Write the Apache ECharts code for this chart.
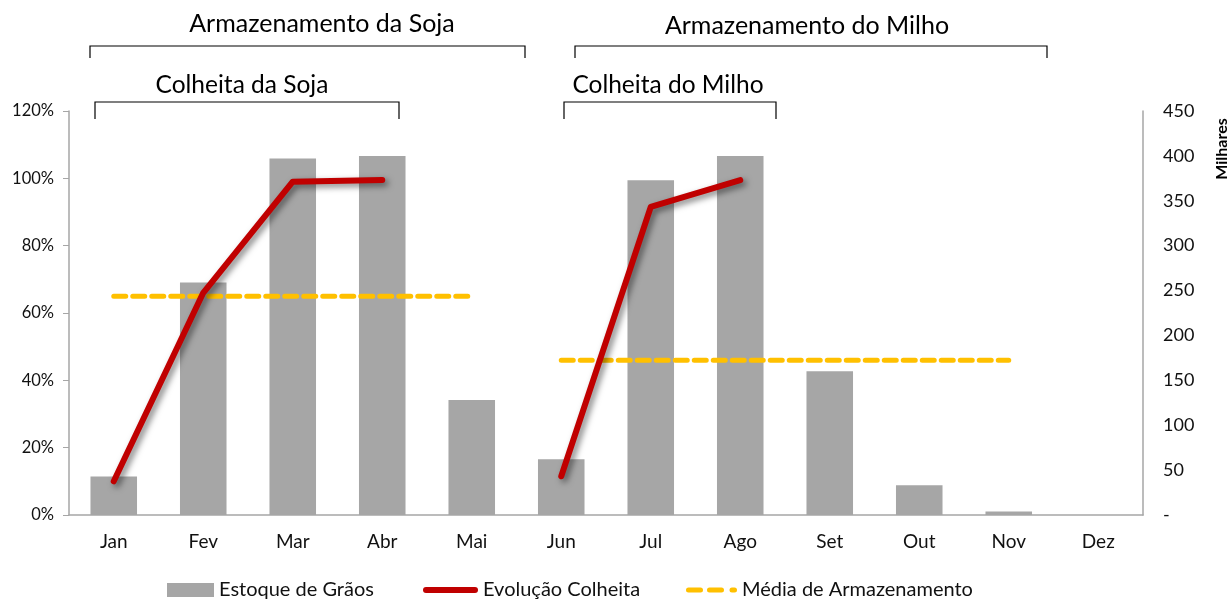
<!DOCTYPE html>
<html>
<head>
<meta charset="utf-8">
<script src="https://cdn.jsdelivr.net/npm/echarts@6/dist/echarts.min.js"></script>
<style>
  html, body { margin: 0; padding: 0; background: #fff; }
  #chart { width: 1229px; height: 601px; }
</style>
</head>
<body>
<div id="chart"></div>
<script>
// meses
var months = ['Jan', 'Fev', 'Mar', 'Abr', 'Mai', 'Jun', 'Jul', 'Ago', 'Set', 'Out', 'Nov', 'Dez'];
// estoque em milhares (eixo direito)
var estoque = [43, 259, 397, 400, 128, 62, 373, 400, 160, 33, 4, 0];
// evolução da colheita em % (eixo esquerdo)
var colheita = [10, 66, 99, 99.5, null, 11.5, 91.5, 99.5, null, null, null, null];
// médias de armazenamento em %
var mediaSoja = [65, 65, 65, 65, 65, null, null, null, null, null, null, null];
var mediaMilho = [null, null, null, null, null, 46, 46, 46, 46, 46, 46, null];

var FONT = 'Lato';
var chart = echarts.init(document.getElementById('chart'));

function bracket(x1, x2, y, h) {
  return {
    type: 'polyline',
    shape: { points: [[x1, y + h], [x1, y], [x2, y], [x2, y + h]] },
    style: { stroke: '#000', lineWidth: 1.2, fill: null }
  };
}

function label(text, x, y, size) {
  return {
    type: 'text', x: x, y: y,
    style: { text: text, font: size + 'px ' + FONT, fill: '#000', textAlign: 'center', textVerticalAlign: 'middle' }
  };
}

var legendText = { fontSize: 20, color: '#111', fontFamily: FONT };

var option = {
  animation: false,
  textStyle: { fontFamily: FONT },
  grid: { left: 69, right: 86, top: 111, bottom: 86 },
  legend: [
    {
      left: 167, top: 580, padding: 0, itemWidth: 47, itemHeight: 14, textStyle: legendText,
      data: [{ name: 'Estoque de Grãos', icon: 'rect' }]
    },
    {
      left: 423, top: 580, padding: 0, itemWidth: 55, itemHeight: 6, textStyle: legendText,
      data: [{ name: 'Evolução Colheita', icon: 'path://M3,0h49a3,3 0 0 1 0,6h-49a3,3 0 0 1 0,-6z' }]
    },
    {
      left: 686, top: 580, padding: 0, itemWidth: 51, itemHeight: 5, textStyle: legendText,
      data: [{ name: 'Média de Armazenamento',
        icon: 'path://M2.5,0h12a2.5,2.5 0 0 1 0,5h-12a2.5,2.5 0 0 1 0,-5z M23.5,0h12a2.5,2.5 0 0 1 0,5h-12a2.5,2.5 0 0 1 0,-5z M46,0h2.5a2.5,2.5 0 0 1 0,5h-2.5a2.5,2.5 0 0 1 0,-5z' }]
    }
  ],
  xAxis: {
    type: 'category',
    data: months,
    axisLine: { lineStyle: { color: '#A6A6A6', width: 1.5 } },
    axisTick: { length: 6, lineStyle: { color: '#A6A6A6' } },
    axisLabel: { fontSize: 19, color: '#111', margin: 17 }
  },
  yAxis: [
    {
      type: 'value', min: 0, max: 120, interval: 20,
      splitLine: { show: false },
      axisLine: { show: true, lineStyle: { color: '#A6A6A6', width: 1.5 } },
      axisTick: { show: true, length: 6, lineStyle: { color: '#A6A6A6' } },
      axisLabel: { formatter: '{value}%', fontSize: 16.5, color: '#111', margin: 15 }
    },
    {
      type: 'value', min: 0, max: 450, interval: 50,
      splitLine: { show: false },
      axisLine: { show: true, lineStyle: { color: '#A6A6A6', width: 1.5 } },
      axisTick: { show: false },
      axisLabel: {
        fontSize: 18, color: '#111', margin: 20,
        formatter: function (v) { return v === 0 ? '-' : v; }
      }
    }
  ],
  series: [
    {
      name: 'Estoque de Grãos',
      type: 'bar',
      yAxisIndex: 1,
      data: estoque,
      barCategoryGap: '48%',
      itemStyle: { color: '#A6A6A6' }
    },
    {
      name: 'Evolução Colheita',
      type: 'line',
      yAxisIndex: 0,
      data: colheita,
      connectNulls: false,
      symbol: 'none',
      lineStyle: {
        color: '#C00000', width: 6, cap: 'round', join: 'round',
        shadowColor: 'rgba(0,0,0,0.5)', shadowBlur: 6, shadowOffsetX: 3, shadowOffsetY: 3
      },
      itemStyle: { color: '#C00000' },
      z: 5
    },
    {
      name: 'Média de Armazenamento',
      type: 'line',
      yAxisIndex: 0,
      data: mediaSoja,
      symbol: 'none',
      lineStyle: { color: '#FFC000', width: 5, type: [12, 7], cap: 'round' },
      itemStyle: { color: '#FFC000' },
      z: 4
    },
    {
      name: 'Média de Armazenamento',
      type: 'line',
      yAxisIndex: 0,
      data: mediaMilho,
      symbol: 'none',
      lineStyle: { color: '#FFC000', width: 5, type: [12, 7], cap: 'round' },
      itemStyle: { color: '#FFC000' },
      z: 4
    }
  ],
  graphic: [
    bracket(90, 525, 46, 12),
    bracket(95, 399, 102, 17),
    bracket(575, 1047, 46, 12),
    bracket(564, 776, 102, 17),
    label('Armazenamento da Soja', 322, 24, 25),
    label('Colheita da Soja', 242, 85, 24.5),
    label('Armazenamento do Milho', 807, 26, 25),
    label('Colheita do Milho', 668, 85, 24.5),
    { type: 'text', x: 1222, y: 149, rotation: Math.PI / 2,
      style: { text: 'Milhares', font: 'bold 16px ' + FONT, fill: '#000', textAlign: 'center', textVerticalAlign: 'middle' } }
  ]
};

chart.setOption(option);
</script>
</body>
</html>
